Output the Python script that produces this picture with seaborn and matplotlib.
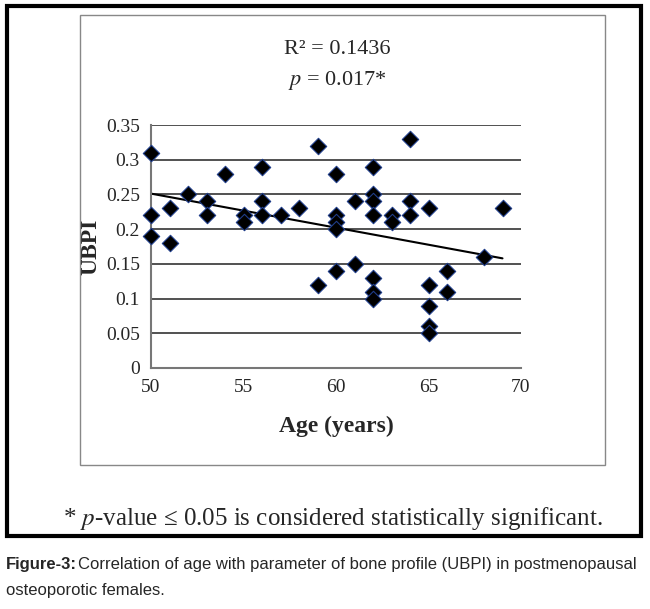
import matplotlib
matplotlib.use("Agg")
import matplotlib.pyplot as plt
import seaborn as sns
import numpy as np
import pandas as pd
from matplotlib.patches import Rectangle

age = [50,50,50,51,51,52,53,53,54,55,55,56,56,56,57,58,59,59,
       60,60,60,60,60,61,61,62,62,62,62,62,62,62,63,63,64,64,64,
       65,65,65,65,65,66,66,68,69]
ubpi = [0.31,0.22,0.19,0.23,0.18,0.25,0.24,0.22,0.28,0.22,0.21,0.29,0.24,0.22,0.22,0.23,0.32,0.12,
        0.28,0.22,0.21,0.20,0.14,0.24,0.15,0.29,0.25,0.24,0.22,0.13,0.11,0.10,0.22,0.21,0.33,0.24,0.22,
        0.23,0.12,0.09,0.06,0.05,0.14,0.11,0.16,0.23]
df = pd.DataFrame({"age": age, "ubpi": ubpi})

sns.set_style("white")
plt.rcParams['font.family'] = ['Liberation Serif', 'DejaVu Serif']
plt.rcParams['mathtext.fontset'] = 'stix'

fig = plt.figure(figsize=(6.5, 6.09), dpi=100)
ax = fig.add_axes([151/650, 1-368/609, 370/650, 243/609])
ax.set_facecolor("none")
for y in np.arange(0.05, 0.36, 0.05):
    ax.axhline(y, color="#333333", lw=1.2, zorder=0)
sns.scatterplot(data=df, x="age", y="ubpi", marker="D", s=70, color="black",
                edgecolor="#1f3d8a", linewidth=0.8, ax=ax, zorder=3, clip_on=False)
m, b = np.polyfit(df.age, df.ubpi, 1)
xs = np.array([50, 69])
ax.plot(xs, m*xs+b, color="black", lw=1.5, zorder=2)
ax.set_xlim(50, 70); ax.set_ylim(0, 0.35)
ax.set_xticks([50,55,60,65,70])
ax.set_yticks(np.arange(0, 0.351, 0.05))
ax.set_yticklabels(["0","0.05","0.1","0.15","0.2","0.25","0.3","0.35"])
ax.tick_params(labelsize=14, length=0, pad=8)
for s in ["top","right"]:
    ax.spines[s].set_visible(False)
for s in ["left","bottom"]:
    ax.spines[s].set_color("#777777"); ax.spines[s].set_linewidth(1.5)
ax.set_xlabel("Age (years)", fontsize=17, fontweight="bold", labelpad=14)
ax.set_ylabel("UBPI", fontsize=17, fontweight="bold")
ax.yaxis.set_label_coords(-0.135, 0.5)

fig.text(337/650, 1-50/609, "R² = 0.1436", fontsize=16, ha="center", va="center")
fig.text(337/650, 1-80/609, "$p$ = 0.017*", fontsize=16, ha="center", va="center")

fig.patches.append(Rectangle((80/650, 1-465/609), 525/650, 450/609, transform=fig.transFigure,
                             fill=False, ec="#888888", lw=1))
fig.patches.append(Rectangle((7/650, 1-536/609), 634/650, 530/609, transform=fig.transFigure,
                             fill=False, ec="black", lw=3))
fig.text(333/650, 1-519/609, "* $p$-value ≤ 0.05 is considered statistically significant.",
         fontsize=18, ha="center", va="center")
cap = ['Liberation Sans Narrow', 'Liberation Sans', 'DejaVu Sans']
fig.text(6/650, 1-565/609, "Figure-3:", fontsize=12, fontweight="bold", family=cap, va="center")
fig.text(78/650, 1-565/609, "Correlation of age with parameter of bone profile (UBPI) in postmenopausal",
         fontsize=12, family=cap, va="center")
fig.text(6/650, 1-590/609, "osteoporotic females.", fontsize=12, family=cap, va="center")
fig.savefig("out.png", dpi=100)
